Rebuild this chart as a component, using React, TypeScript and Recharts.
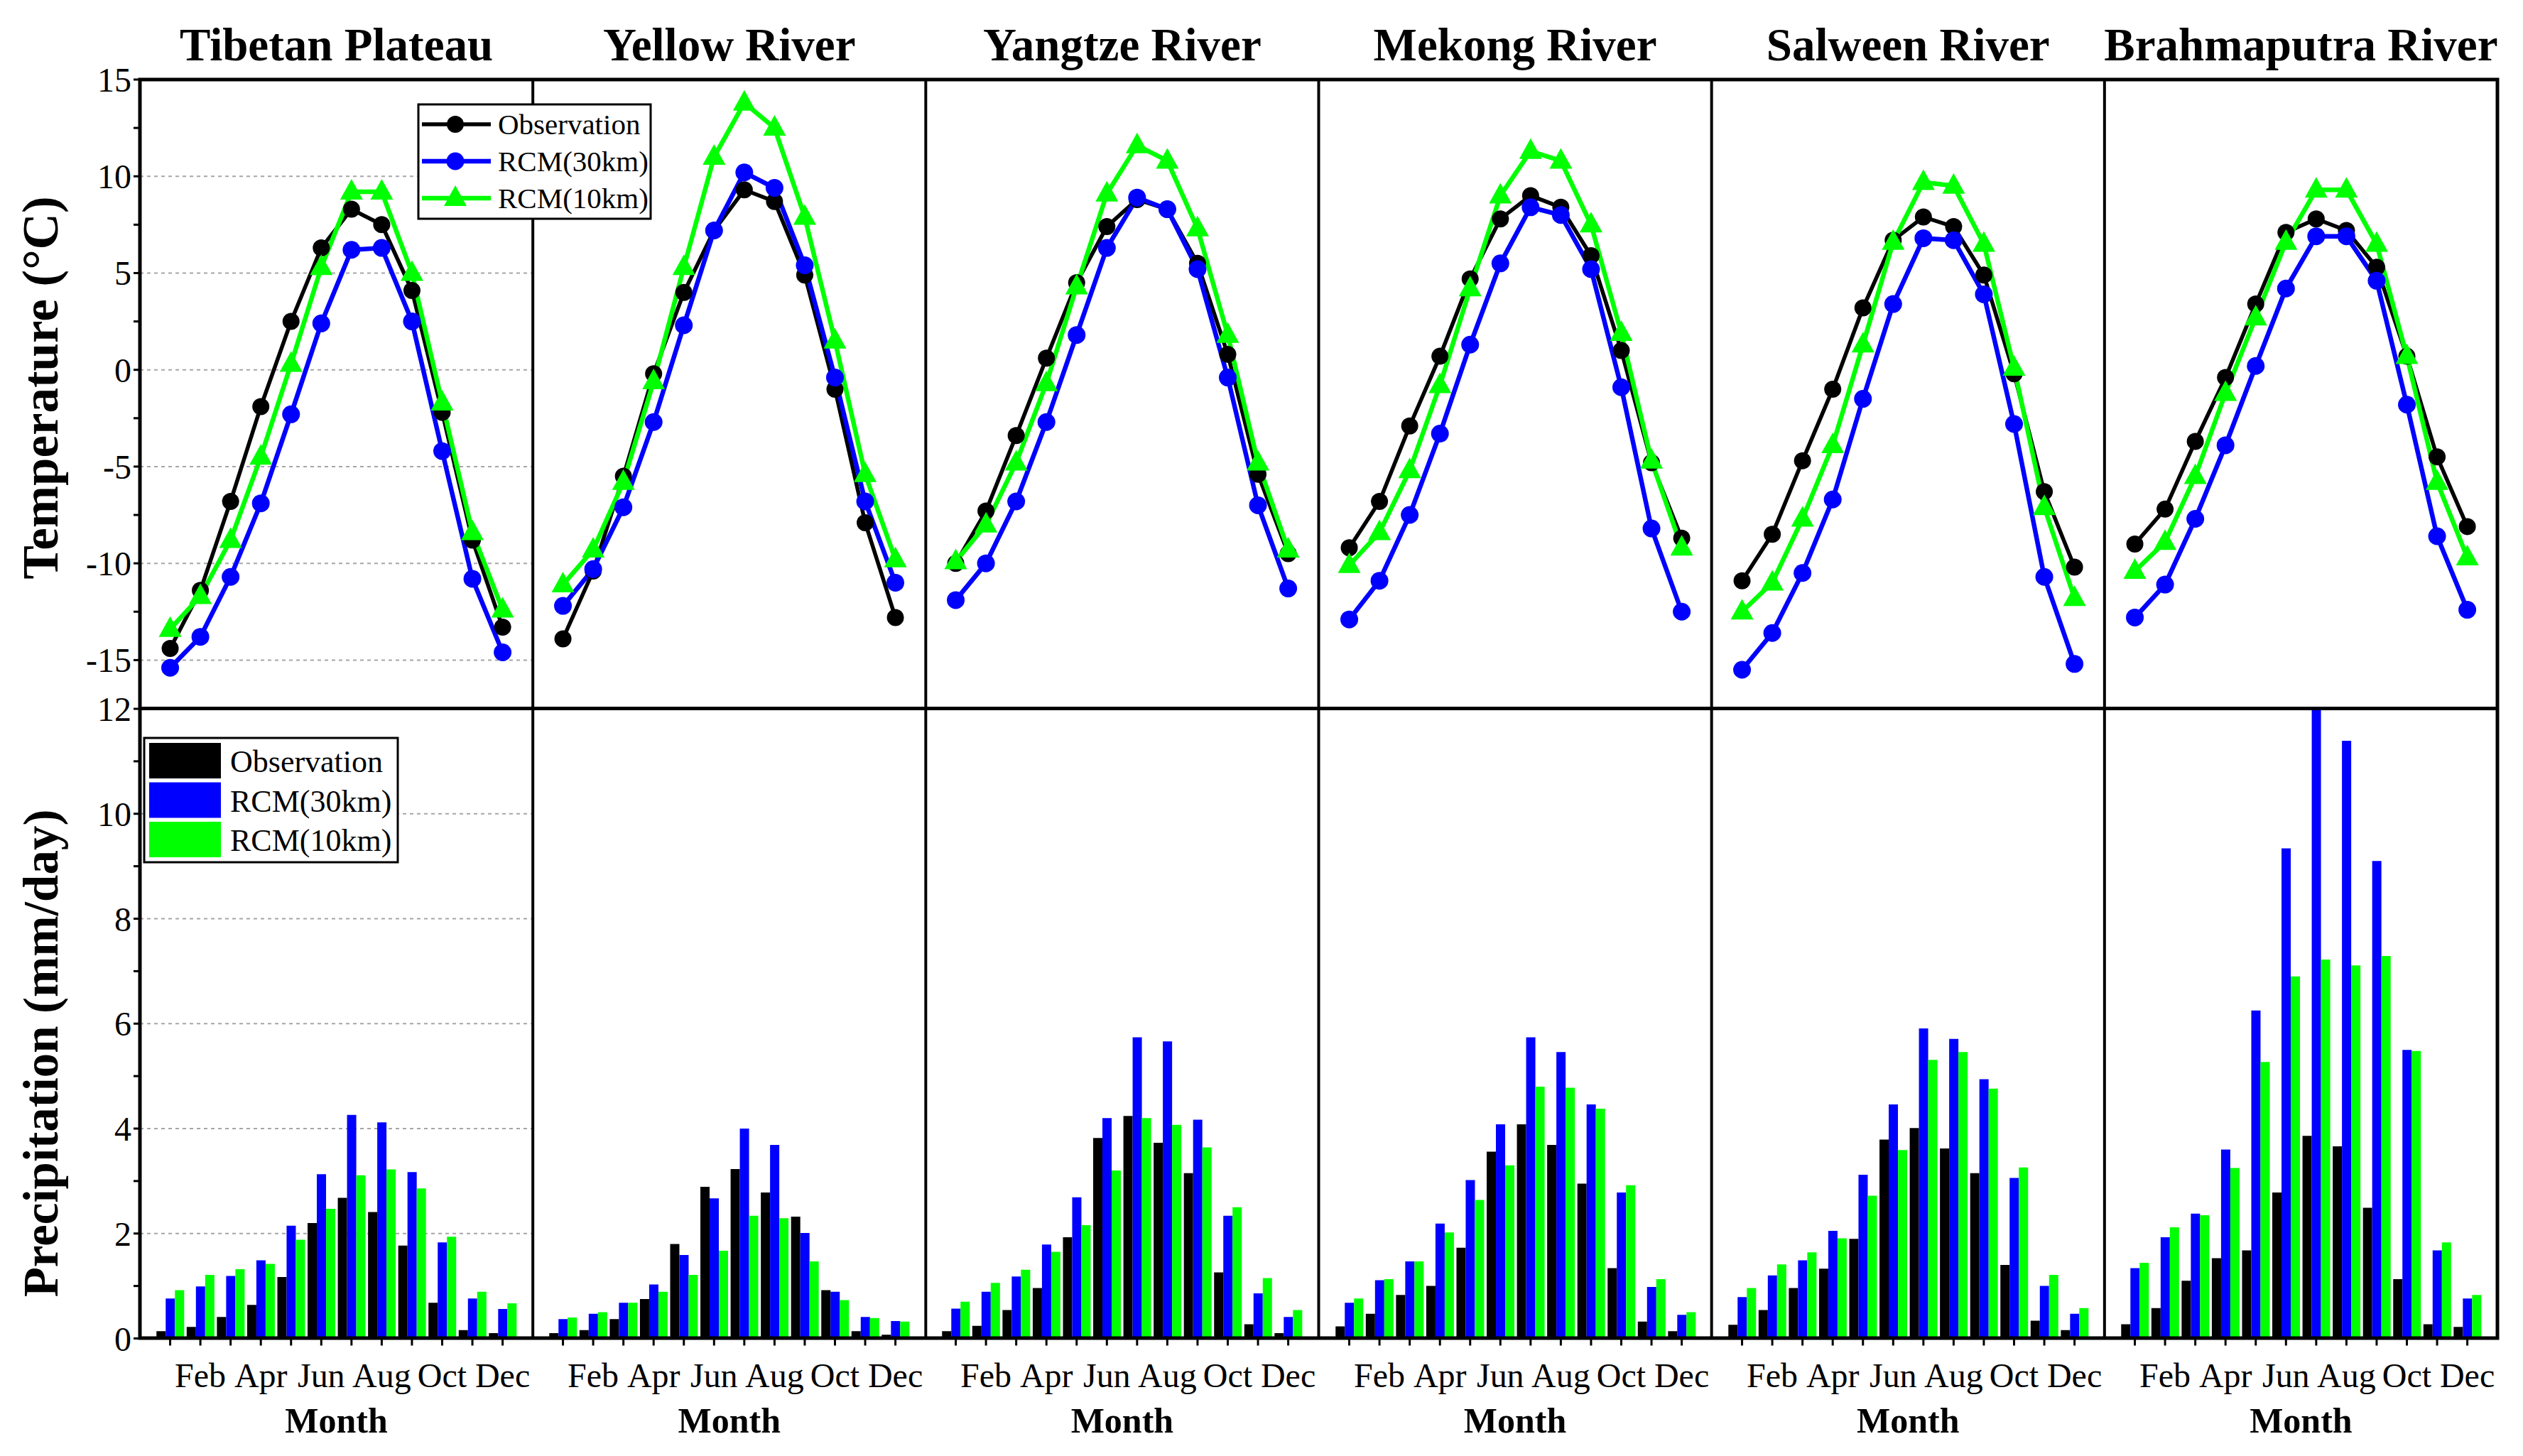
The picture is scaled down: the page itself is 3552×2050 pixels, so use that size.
import React from "react";
import { LineChart, Line, BarChart, Bar, XAxis, YAxis, CartesianGrid } from "recharts";

const FONT = "'Liberation Serif', 'Times New Roman', Times, serif";

const monthNames = ["Jan", "Feb", "Mar", "Apr", "May", "Jun", "Jul", "Aug", "Sep", "Oct", "Nov", "Dec"];
const monthIndex = [1, 2, 3, 4, 5, 6, 7, 8, 9, 10, 11, 12];
const monthTickLabels = ["", "Feb", "", "Apr", "", "Jun", "", "Aug", "", "Oct", "", "Dec"];
const regionTitles = ["Tibetan Plateau", "Yellow River", "Yangtze River", "Mekong River", "Salween River", "Brahmaputra River"];
const seriesNames = ["Observation", "RCM(30km)", "RCM(10km)"];
const seriesColors = ["#000000", "#0000ff", "#00ff00"];

const tempTicks = [-15, -12.5, -10, -7.5, -5, -2.5, 0, 2.5, 5, 7.5, 10, 12.5, 15];
const tempGrid = [-15, -10, -5, 0, 5, 10];
const precTicks = [0, 1, 2, 3, 4, 5, 6, 7, 8, 9, 10, 11, 12];
const precGrid = [2, 4, 6, 8, 10];

// temperature (°C)
const tpTObs = [-14.4, -11.4, -6.8, -1.9, 2.5, 6.3, 8.3, 7.5, 4.1, -2.2, -8.8, -13.3];
const tpT30 = [-15.4, -13.8, -10.7, -6.9, -2.3, 2.4, 6.2, 6.3, 2.5, -4.2, -10.8, -14.6];
const tpT10 = [-13.4, -11.7, -8.8, -4.5, 0.3, 5.3, 9.2, 9.2, 5.0, -1.7, -8.4, -12.4];

const yrTObs = [-13.9, -10.4, -5.5, -0.2, 4.0, 7.2, 9.3, 8.7, 4.9, -1.0, -7.9, -12.8];
const yrT30 = [-12.2, -10.3, -7.1, -2.7, 2.3, 7.2, 10.2, 9.4, 5.4, -0.4, -6.8, -11.0];
const yrT10 = [-11.1, -9.3, -5.8, -0.6, 5.3, 11.0, 13.8, 12.5, 7.9, 1.5, -5.4, -9.8];

const yzTObs = [-10.0, -7.3, -3.4, 0.6, 4.5, 7.4, 8.8, 8.3, 5.5, 0.8, -5.4, -9.5];
const yzT30 = [-11.9, -10.0, -6.8, -2.7, 1.8, 6.3, 8.9, 8.3, 5.2, -0.4, -7.0, -11.3];
const yzT10 = [-9.9, -8.0, -4.8, -0.7, 4.3, 9.1, 11.6, 10.8, 7.3, 1.8, -4.8, -9.3];

const mkTObs = [-9.2, -6.8, -2.9, 0.7, 4.7, 7.8, 9.0, 8.4, 5.9, 1.0, -4.8, -8.7];
const mkT30 = [-12.9, -10.9, -7.5, -3.3, 1.3, 5.5, 8.4, 8.0, 5.2, -0.9, -8.2, -12.5];
const mkT10 = [-10.1, -8.4, -5.2, -0.8, 4.2, 9.0, 11.3, 10.8, 7.5, 1.9, -4.7, -9.2];

const swTObs = [-10.9, -8.5, -4.7, -1.0, 3.2, 6.7, 7.9, 7.4, 4.9, -0.2, -6.3, -10.2];
const swT30 = [-15.5, -13.6, -10.5, -6.7, -1.5, 3.4, 6.8, 6.7, 3.9, -2.8, -10.7, -15.2];
const swT10 = [-12.5, -11.0, -7.7, -3.9, 1.3, 6.6, 9.7, 9.5, 6.5, 0.1, -7.1, -11.8];

const bpTObs = [-9.0, -7.2, -3.7, -0.4, 3.4, 7.1, 7.8, 7.2, 5.3, 0.7, -4.5, -8.1];
const bpT30 = [-12.8, -11.1, -7.7, -3.9, 0.2, 4.2, 6.9, 6.9, 4.6, -1.8, -8.6, -12.4];
const bpT10 = [-10.4, -8.9, -5.5, -1.2, 2.7, 6.6, 9.3, 9.3, 6.5, 0.7, -5.8, -9.7];

// precipitation (mm/day)
const tpPObs = [0.14, 0.22, 0.41, 0.64, 1.17, 2.2, 2.68, 2.41, 1.77, 0.68, 0.16, 0.1];
const tpP30 = [0.76, 0.99, 1.19, 1.49, 2.15, 3.13, 4.26, 4.12, 3.17, 1.83, 0.76, 0.56];
const tpP10 = [0.92, 1.21, 1.32, 1.42, 1.88, 2.47, 3.11, 3.22, 2.86, 1.94, 0.89, 0.67];

const yrPObs = [0.1, 0.16, 0.37, 0.75, 1.8, 2.89, 3.23, 2.78, 2.32, 0.92, 0.14, 0.07];
const yrP30 = [0.37, 0.47, 0.68, 1.03, 1.59, 2.67, 4.0, 3.69, 2.01, 0.89, 0.41, 0.33];
const yrP10 = [0.4, 0.5, 0.68, 0.89, 1.21, 1.67, 2.34, 2.29, 1.47, 0.73, 0.39, 0.32];

const yzPObs = [0.14, 0.24, 0.54, 0.96, 1.93, 3.82, 4.24, 3.73, 3.15, 1.26, 0.27, 0.1];
const yzP30 = [0.57, 0.89, 1.18, 1.79, 2.69, 4.2, 5.74, 5.66, 4.17, 2.34, 0.86, 0.41];
const yzP10 = [0.7, 1.06, 1.31, 1.65, 2.16, 3.2, 4.2, 4.07, 3.64, 2.5, 1.15, 0.54];

const mkPObs = [0.23, 0.47, 0.83, 1.0, 1.73, 3.56, 4.08, 3.69, 2.95, 1.34, 0.32, 0.14];
const mkP30 = [0.68, 1.11, 1.47, 2.19, 3.02, 4.08, 5.74, 5.46, 4.46, 2.78, 0.98, 0.45];
const mkP10 = [0.76, 1.13, 1.47, 2.02, 2.64, 3.3, 4.8, 4.78, 4.38, 2.92, 1.13, 0.5];

const swPObs = [0.26, 0.54, 0.96, 1.33, 1.9, 3.79, 4.01, 3.62, 3.15, 1.4, 0.34, 0.16];
const swP30 = [0.79, 1.2, 1.49, 2.05, 3.12, 4.46, 5.91, 5.71, 4.94, 3.06, 1.0, 0.47];
const swP10 = [0.96, 1.41, 1.64, 1.91, 2.72, 3.59, 5.31, 5.46, 4.76, 3.26, 1.21, 0.58];

const bpPObs = [0.27, 0.58, 1.1, 1.53, 1.68, 2.78, 3.86, 3.66, 2.49, 1.13, 0.27, 0.22];
const bpP30 = [1.34, 1.93, 2.38, 3.6, 6.25, 9.34, 12.0, 11.39, 9.1, 5.5, 1.68, 0.76];
const bpP10 = [1.44, 2.12, 2.35, 3.25, 5.27, 6.9, 7.22, 7.11, 7.29, 5.48, 1.83, 0.83];

const tempSets = [
  [tpTObs, tpT30, tpT10],
  [yrTObs, yrT30, yrT10],
  [yzTObs, yzT30, yzT10],
  [mkTObs, mkT30, mkT10],
  [swTObs, swT30, swT10],
  [bpTObs, bpT30, bpT10],
];
const precSets = [
  [tpPObs, tpP30, tpP10],
  [yrPObs, yrP30, yrP10],
  [yzPObs, yzP30, yzP10],
  [mkPObs, mkP30, mkP10],
  [swPObs, swP30, swP10],
  [bpPObs, bpP30, bpP10],
];

// layout (px)
const PLOT_LEFT = 197;
const PLOT_RIGHT = 3516;
const COL_W = (PLOT_RIGHT - PLOT_LEFT) / 6;
const TOP_Y = 112;
const MID_Y = 997.5;
const BOT_Y = 1884;
const AXIS_W = 150;
const PAD = 30;

function TriangleDot(props: any) {
  const { cx, cy, index } = props;
  if (cx == null || cy == null) return <g key={`t-${index}`} />;
  return (
    <polygon
      key={`t-${index}`}
      points={`${cx},${cy - 18} ${cx - 16},${cy + 11} ${cx + 16},${cy + 11}`}
      fill="#00ff00"
    />
  );
}

function TempPanel({ col }: { col: number }) {
  const [obs, r30, r10] = tempSets[col];
  const data = monthIndex.map((m, i) => ({ m, obs: obs[i], r30: r30[i], r10: r10[i] }));
  const first = col === 0;
  const h = MID_Y - TOP_Y;
  return (
    <div style={{ position: "absolute", left: PLOT_LEFT + col * COL_W - AXIS_W, top: TOP_Y - PAD }}>
      <LineChart
        width={AXIS_W + COL_W + 10}
        height={h + 2 * PAD}
        data={data}
        margin={{ top: PAD, right: 10, bottom: PAD, left: 0 }}
      >
        <CartesianGrid vertical={false} horizontalValues={tempGrid} stroke="#a6a6a6" strokeDasharray="5 5" strokeWidth={2} />
        <XAxis type="number" dataKey="m" domain={[0, 13]} hide />
        <YAxis
          type="number"
          domain={[-17.5, 15]}
          ticks={tempTicks}
          interval={0}
          width={AXIS_W}
          allowDataOverflow
          axisLine={false}
          tickLine={first ? { stroke: "#000", strokeWidth: 3 } : false}
          tickSize={9}
          tickMargin={3}
          tick={first ? { fontSize: 48, fill: "#000", fontFamily: FONT } : false}
          tickFormatter={(v: number) => (v % 5 === 0 ? String(v) : "")}
        />
        <Line dataKey="obs" stroke="#000000" strokeWidth={5.5} dot={{ r: 12, fill: "#000000", stroke: "none" }} isAnimationActive={false} />
        <Line dataKey="r30" stroke="#0000ff" strokeWidth={6.5} dot={{ r: 12.5, fill: "#0000ff", stroke: "none" }} isAnimationActive={false} />
        <Line dataKey="r10" stroke="#00ff00" strokeWidth={6.5} dot={(p: any) => <TriangleDot {...p} key={`t-${p.index}`} />} isAnimationActive={false} />
      </LineChart>
    </div>
  );
}

function PrecPanel({ col }: { col: number }) {
  const [obs, r30, r10] = precSets[col];
  const data = monthNames.map((m, i) => ({ m, obs: obs[i], r30: r30[i], r10: r10[i] }));
  const first = col === 0;
  const h = BOT_Y - MID_Y;
  const xh = 140;
  return (
    <div style={{ position: "absolute", left: PLOT_LEFT + col * COL_W - AXIS_W, top: MID_Y - PAD }}>
      <BarChart
        width={AXIS_W + COL_W + 10}
        height={h + PAD + xh}
        data={data}
        margin={{ top: PAD, right: 10, bottom: 0, left: 0 }}
        barCategoryGap={2}
        barGap={0}
      >
        <CartesianGrid vertical={false} horizontalValues={precGrid} stroke="#a6a6a6" strokeDasharray="5 5" strokeWidth={2} />
        <XAxis
          dataKey="m"
          interval={0}
          height={xh}
          padding={{ left: COL_W / 26, right: COL_W / 26 }}
          axisLine={false}
          tickLine={{ stroke: "#000", strokeWidth: 3 }}
          tickSize={10}
          tickMargin={24}
          tick={{ fontSize: 48, fill: "#000", fontFamily: FONT }}
          tickFormatter={(_v: string, i: number) => monthTickLabels[i]}
        />
        <YAxis
          type="number"
          domain={[0, 12]}
          ticks={precTicks}
          interval={0}
          width={AXIS_W}
          allowDataOverflow
          axisLine={false}
          tickLine={first ? { stroke: "#000", strokeWidth: 3 } : false}
          tickSize={9}
          tickMargin={3}
          tick={first ? { fontSize: 48, fill: "#000", fontFamily: FONT } : false}
          tickFormatter={(v: number) => (v % 2 === 0 ? String(v) : "")}
        />
        <Bar dataKey="obs" fill="#000000" isAnimationActive={false} />
        <Bar dataKey="r30" fill="#0000ff" isAnimationActive={false} />
        <Bar dataKey="r10" fill="#00ff00" isAnimationActive={false} />
      </BarChart>
    </div>
  );
}

function Overlay() {
  const cols = [0, 1, 2, 3, 4, 5];
  const topRows = [175, 227, 279];
  const swatchRows = [1046, 1101.5, 1157];
  return (
    <svg
      width={3552}
      height={2050}
      style={{ position: "absolute", left: 0, top: 0, pointerEvents: "none" }}
      fontFamily={FONT}
    >
      {/* frame */}
      <rect x={PLOT_LEFT} y={TOP_Y} width={PLOT_RIGHT - PLOT_LEFT} height={BOT_Y - TOP_Y} fill="none" stroke="#000" strokeWidth={5} />
      <line x1={PLOT_LEFT} x2={PLOT_RIGHT} y1={MID_Y} y2={MID_Y} stroke="#000" strokeWidth={5} />
      {cols.slice(1).map((c) => (
        <line key={c} x1={PLOT_LEFT + c * COL_W} x2={PLOT_LEFT + c * COL_W} y1={TOP_Y} y2={BOT_Y} stroke="#000" strokeWidth={4} />
      ))}

      {/* titles */}
      {cols.map((c) => (
        <text key={`t${c}`} x={PLOT_LEFT + (c + 0.5) * COL_W} y={85} textAnchor="middle" fontSize={65} fontWeight="bold" fill="#000">
          {regionTitles[c]}
        </text>
      ))}
      {cols.map((c) => (
        <text key={`m${c}`} x={PLOT_LEFT + (c + 0.5) * COL_W} y={2017} textAnchor="middle" fontSize={50} fontWeight="bold" fill="#000">
          Month
        </text>
      ))}
      <text transform="translate(58, 546) rotate(-90)" y={23} textAnchor="middle" fontSize={71} fontWeight="bold" fill="#000">
        Temperature (°C)
      </text>
      <text transform="translate(58, 1483) rotate(-90)" y={23} textAnchor="middle" fontSize={69} fontWeight="bold" fill="#000">
        Precipitation (mm/day)
      </text>

      {/* line legend */}
      <rect x={589} y={147} width={327} height={161} fill="#fff" stroke="#000" strokeWidth={3} />
      {topRows.map((y, i) => (
        <g key={`l${i}`}>
          <line x1={594} x2={691} y1={y} y2={y} stroke={seriesColors[i]} strokeWidth={i === 0 ? 5.5 : 6.5} />
          {i < 2 ? (
            <circle cx={641} cy={y} r={i === 0 ? 12 : 12.5} fill={seriesColors[i]} />
          ) : (
            <polygon points={`641,${y - 18} 625,${y + 11} 657,${y + 11}`} fill={seriesColors[i]} />
          )}
          <text x={701} y={y + 14} fontSize={41} fill="#000">
            {seriesNames[i]}
          </text>
        </g>
      ))}

      {/* bar legend */}
      <rect x={203} y={1039} width={357} height={175} fill="#fff" stroke="#000" strokeWidth={3} />
      {swatchRows.map((y, i) => (
        <g key={`b${i}`}>
          <rect x={210} y={y} width={101} height={50} fill={seriesColors[i]} />
          <text x={324} y={y + 41} fontSize={44} fill="#000">
            {seriesNames[i]}
          </text>
        </g>
      ))}
    </svg>
  );
}

export default function App() {
  const cols = [0, 1, 2, 3, 4, 5];
  return (
    <div style={{ position: "absolute", left: 0, top: 0, width: 3552, height: 2050, background: "#fff" }}>
      {cols.map((c) => (
        <TempPanel key={`tp${c}`} col={c} />
      ))}
      {cols.map((c) => (
        <PrecPanel key={`pp${c}`} col={c} />
      ))}
      <Overlay />
    </div>
  );
}
